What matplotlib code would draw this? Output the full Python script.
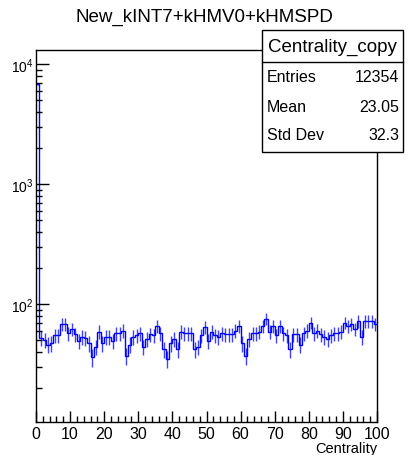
import numpy as np
import matplotlib
matplotlib.use("Agg")
import matplotlib.pyplot as plt
from matplotlib.ticker import MultipleLocator, LogLocator, NullFormatter

plt.rcParams['font.family'] = ['Liberation Sans', 'DejaVu Sans']

# Centrality histogram, 100 bins from 0 to 100
bin_edges = np.arange(0, 101, 1)
counts = [6810, 52, 50, 46, 47, 55, 55, 68, 68, 57,
          62, 56, 49, 53, 52, 47, 36, 44, 59, 47,
          53, 53, 49, 57, 57, 60, 37, 46, 53, 55,
          57, 44, 51, 56, 55, 66, 57, 42, 35, 47,
          51, 42, 59, 57, 57, 57, 42, 44, 55, 64,
          49, 59, 55, 53, 57, 56, 56, 56, 60, 66,
          47, 37, 51, 57, 57, 59, 66, 75, 59, 66,
          55, 66, 57, 55, 42, 56, 56, 46, 57, 60,
          70, 57, 60, 56, 53, 51, 55, 57, 57, 59,
          70, 66, 68, 62, 72, 53, 72, 72, 72, 68]

title = "New_kINT7+kHMV0+kHMSPD"
stats_name = "Centrality_copy"
stats_rows = [("Entries", "12354"), ("Mean", "23.05"), ("Std Dev", "32.3")]

counts = np.array(counts, dtype=float)
centers = 0.5 * (bin_edges[:-1] + bin_edges[1:])
errors = np.sqrt(counts)

fig = plt.figure(figsize=(4.08, 4.56), dpi=100)
ax = fig.add_axes([36 / 408, 1 - 423 / 456, (377 - 36) / 408, (423 - 51) / 456])

blue = '#0000ff'
# step outline plus sqrt(N) error bars, like ROOT's default hist drawing
ax.stairs(counts, bin_edges, color=blue, lw=1.0, baseline=None)
ax.vlines(centers, counts - errors, counts + errors, color=blue, lw=1.0, alpha=0.75)

ax.set_yscale('log')
ax.set_xlim(0, 100)
ax.set_ylim(10.4, 13100)

ax.xaxis.set_major_locator(MultipleLocator(10))
ax.xaxis.set_minor_locator(MultipleLocator(2))
ax.yaxis.set_major_locator(LogLocator(base=10, numticks=10))
ax.yaxis.set_minor_locator(LogLocator(base=10, subs=np.arange(2, 10), numticks=20))
ax.yaxis.set_minor_formatter(NullFormatter())

ax.tick_params(axis='both', which='both', direction='in', top=False, right=False,
               labelsize=11.5, colors='black', width=1.0)
ax.tick_params(axis='x', which='major', length=8, pad=3)
ax.tick_params(axis='x', which='minor', length=4)
ax.tick_params(axis='y', which='major', length=9, pad=2, labelsize=10)
ax.tick_params(axis='y', which='minor', length=4)
for sp in ax.spines.values():
    sp.set_linewidth(1.0)

ax.set_xlabel("Centrality", fontsize=10.5, loc='right', labelpad=0)

fig.text(0.5, 1 - 17 / 456, title, ha='center', va='center', fontsize=13.5)

# stats box
bx0, bx1 = 262 / 408, 403 / 408
by0, by1 = 1 - 153 / 456, 1 - 31 / 456
sep = 1 - 63 / 456
box = plt.Rectangle((bx0, by0), bx1 - bx0, by1 - by0, transform=fig.transFigure,
                    facecolor='white', edgecolor='black', lw=1.0, zorder=5)
fig.add_artist(box)
fig.add_artist(plt.Line2D([bx0, bx1], [sep, sep], transform=fig.transFigure,
                          color='black', lw=1.0, zorder=6))
fig.text((bx0 + bx1) / 2, (sep + by1) / 2, stats_name, ha='center', va='center',
         fontsize=13.5, zorder=7)
row_y = [78, 107, 136]
for (name, val), yy in zip(stats_rows, row_y):
    fig.text(267 / 408, 1 - yy / 456, name, ha='left', va='center', fontsize=11.5, zorder=7)
    fig.text(399 / 408, 1 - yy / 456, val, ha='right', va='center', fontsize=11.5, zorder=7)

fig.savefig("out.png", dpi=100)
